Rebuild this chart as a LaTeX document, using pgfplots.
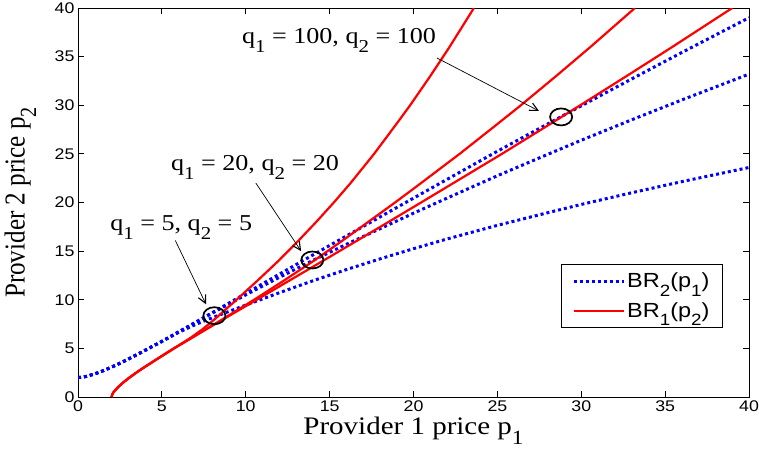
\documentclass[border=0pt]{standalone}
\usepackage{fontspec}
\setmainfont{Liberation Serif}[FakeStretch=1.15]
\newfontfamily\sansS{Liberation Sans}[FakeStretch=1.15]
\newfontfamily\serifV{Liberation Serif}[FakeStretch=0.87]
\usepackage{pgfplots}
\pgfplotsset{compat=1.18}
\usepackage{pgfplotstable}
\usetikzlibrary{calc,arrows.meta}

\makeatletter
\newcommand{\sub}[1]{\raisebox{-0.4em}{\fontsize{\strip@pt\dimexpr0.8\dimexpr\f@size pt\relax\relax}{0}\selectfont #1}}
\makeatother

\pgfplotstableread{
x y
0 2.0
0.25 2.04
0.5 2.12
1 2.38
1.5 2.7
2 3.07
2.5 3.47
3 3.9
4 4.8
5 5.72
6 6.7
7 7.68
8 8.67
10 10.65
12 12.63
14 14.6
16 16.56
18 18.51
20 20.45
22 22.38
25 25.27
28 28.08
30 29.94
33 32.7
36 35.43
40 39.0
}\brA

\pgfplotstableread{
x y
0 2.0
0.25 2.04
0.5 2.12
1 2.38
1.5 2.7
2 3.07
2.5 3.47
3 3.9
4 4.8
5 5.72
6 6.7
7 7.66
8 8.62
10 10.5
12 12.3
14 14.05
16 15.7
18 17.3
20 18.9
22 20.45
25 22.75
28 24.95
30 26.4
33 28.5
36 30.55
40 33.2
}\brB

\pgfplotstableread{
x y
0 2.0
0.25 2.04
0.5 2.12
1 2.38
1.5 2.7
2 3.07
2.5 3.47
3 3.9
4 4.8
5 5.72
6 6.64
7 7.45
8 8.15
9 8.8
10 9.45
12 10.72
14 11.95
16 13.1
18 14.2
20 15.25
22 16.25
25 17.65
28 18.95
30 19.8
33 21.0
36 22.15
40 23.6
}\brC

\newcommand{\annfont}{\fontsize{22.8}{25}\selectfont}

\begin{document}
\begin{tikzpicture}
\begin{axis}[
  scale only axis, width=671bp, height=389bp,
  xmin=0, xmax=40, ymin=0, ymax=40,
  xtick={0,5,...,40}, ytick={0,5,...,40},
  tick align=inside, major tick length=6bp,
  axis line style={line width=1bp},
  every tick/.style={black, line width=0.8bp},
  /pgf/number format/assume math mode=true,
  tick label style={font=\fontsize{15.5}{16}\sansS},
  xlabel={Provider 1 price p\sub{1}},
  ylabel={Provider 2 price p\sub{2}},
  xlabel style={at={(axis description cs:0.5,0)}, anchor=north, yshift=-20bp,
    font=\fontsize{25.3}{28}\selectfont, inner sep=0pt},
  ylabel style={at={(axis description cs:-0.062,0.5)}, anchor=south,
    font=\fontsize{29}{30}\serifV, inner sep=0pt},
  legend style={at={(0.961,0.177)}, anchor=south east, draw=black,
    line width=0.8bp, font=\fontsize{20.5}{22}\sansS, row sep=9bp,
    inner xsep=11bp, inner ysep=7bp, cells={anchor=west}},
  legend image code/.code={\draw[#1] (0bp,0bp) -- (50bp,0bp);},
]
\addlegendimage{blue, line width=3bp, dash pattern=on 3bp off 3bp}
\addlegendentry{BR\sub{2}(p\sub{1})}
\addlegendimage{red, line width=2.2bp}
\addlegendentry{BR\sub{1}(p\sub{2})}

\addplot[blue, line width=3bp, dash pattern=on 3bp off 3bp, forget plot] table[x=x,y=y]{\brA};
\addplot[blue, line width=3bp, dash pattern=on 3bp off 3bp, forget plot] table[x=x,y=y]{\brB};
\addplot[blue, line width=3bp, dash pattern=on 3bp off 3bp, forget plot] table[x=x,y=y]{\brC};
\addplot[red, line width=2.2bp, forget plot] table[x=y,y=x]{\brA};
\addplot[red, line width=2.2bp, forget plot] table[x=y,y=x]{\brB};
\addplot[red, line width=2.2bp, forget plot] table[x=y,y=x]{\brC};

\addplot[only marks, mark=o, mark size=8.5bp,
  mark options={xscale=1.3, line width=1.7bp, black}, forget plot]
  coordinates {(8.13,8.36) (13.97,14.09) (28.8,28.8)};

\node[font=\annfont, anchor=base, inner sep=0pt] at (axis cs:15.56,36.4) {q\sub{1} = 100, q\sub{2} = 100};
\node[font=\annfont, anchor=base, inner sep=0pt] at (axis cs:10.55,23.34) {q\sub{1} = 20, q\sub{2} = 20};
\node[font=\annfont, anchor=base, inner sep=0pt] at (axis cs:6.15,17.17) {q\sub{1} = 5, q\sub{2} = 5};

\draw[line width=0.7bp, -{Straight Barb[length=8bp,width=8bp,line width=1.1bp]}] (axis cs:21.4,34.86) -- (axis cs:27.48,29.41);
\draw[line width=0.7bp, -{Straight Barb[length=8bp,width=8bp,line width=1.1bp]}] (axis cs:10.6,22.0) -- (axis cs:13.3,15.0);
\draw[line width=0.7bp, -{Straight Barb[length=8bp,width=8bp,line width=1.1bp]}] (axis cs:5.8,16.1) -- (axis cs:7.63,9.53);

\coordinate (bl) at (rel axis cs:0,0);
\coordinate (tr) at (rel axis cs:1,1);
\end{axis}
\pgfresetboundingbox
\path ($(bl)+(-78bp,-61bp)$) rectangle ($(tr)+(10bp,8bp)$);
\end{tikzpicture}
\end{document}
